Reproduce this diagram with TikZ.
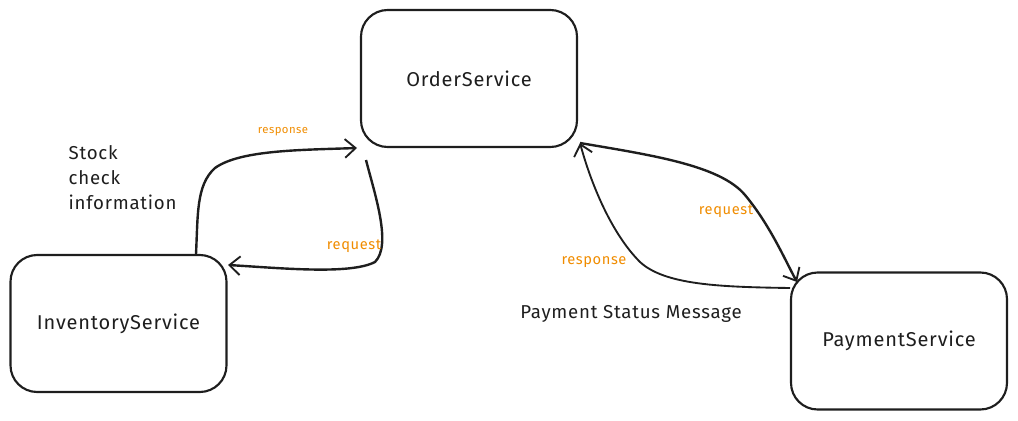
\documentclass[tikz,border=0pt]{standalone}
\usepackage{fontspec}
\setmainfont{Fira Sans}[LetterSpace=4]
\usetikzlibrary{arrows.meta}
\definecolor{lbl}{HTML}{F08C00}
\definecolor{ink}{HTML}{1E1E1E}
\begin{document}
\begin{tikzpicture}[x=0.75pt,y=-0.75pt,
  svc/.style={draw=ink,line width=1.6pt,rounded corners=20pt,minimum width=216*0.75pt,minimum height=137*0.75pt,font=\fontsize{15}{17}\selectfont,text=ink},
  conn/.style={draw=ink,line width=1.8pt,-{Straight Barb[length=8pt,width=14pt,line width=1.4pt]}},
  thin/.style={draw=ink,line width=1.4pt,-{Straight Barb[length=8pt,width=14pt,line width=1.4pt]}},
  lab/.style={text=lbl,font=\fontsize{11}{13}\selectfont},
  note/.style={text=ink,font=\fontsize{14}{18.7}\selectfont}]
\useasboundingbox (0,0) rectangle (1018,421);
\node[svc] (order) at (469,78.5) {OrderService};
\node[svc] (inv) at (118.5,323.5) {InventoryService};
\node[svc] (pay) at (899,341) {PaymentService};
\coordinate (invtop) at (196,254);
\coordinate (ordbl) at (357,148);
\coordinate (ordb) at (366,160);
\coordinate (invr) at (228,265);
\coordinate (ordbr) at (580,143);
\coordinate (paytl) at (797,282);
\coordinate (payl) at (790,288);
% response (inventory -> order)
\draw[conn] (invtop) .. controls (198,215) and (196,185) .. (215,168) .. controls (240,150) and (300,150) .. (ordbl);
% request (order -> inventory)
\draw[conn] (ordb) .. controls (375,195) and (392,245) .. (375,262) .. controls (350,275) and (280,268) .. (invr);
% request (order -> payment)
\draw[conn] (ordbr) .. controls (650,155) and (720,165) .. (745,195) .. controls (770,225) and (785,260) .. (paytl);
% response (payment -> order)
\draw[thin] (payl) .. controls (720,287) and (665,285) .. (640,262) .. controls (610,232) and (590,180) .. (ordbr);
\node[lab,font=\fontsize{8.5}{10}\selectfont] (l1) at (283,132) {response};
\node[lab] (l2) at (354,246) {request};
\node[lab] (l3) at (726,211) {request};
\node[lab] (l4) at (594,262) {response};
\node[note,align=left,anchor=north west] (stock) at (64,141) {Stock\\check\\information};
\node[note] (pm) at (631,314) {Payment Status Message};
\end{tikzpicture}
\end{document}
